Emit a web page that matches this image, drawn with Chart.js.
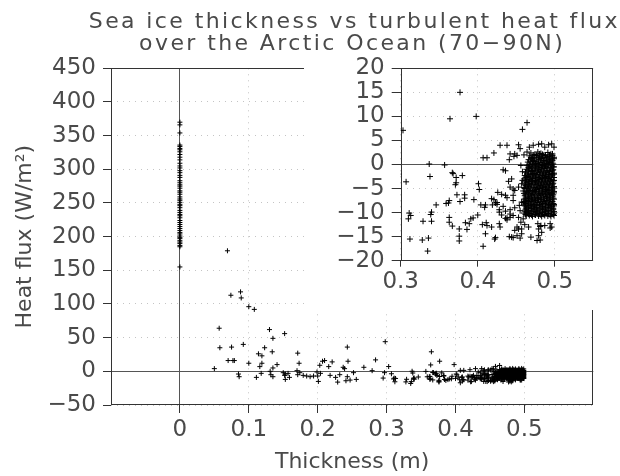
<!DOCTYPE html>
<html>
<head>
<meta charset="utf-8">
<script src="https://cdn.jsdelivr.net/npm/chart.js@4"></script>
<style>
html,body{margin:0;padding:0;background:#fff;}
#wrap{position:relative;width:620px;height:476px;overflow:hidden;}
#main{position:absolute;left:0;top:0;width:620px;height:476px;}
#inset{position:absolute;left:304px;top:40px;width:316px;height:270px;}
</style>
</head>
<body>
<div id="wrap">
<canvas id="main" width="620" height="476"></canvas>
<canvas id="inset" width="316" height="270"></canvas>
</div>
<script>
// ---------- text ----------
const titleLine1 = 'Sea ice thickness vs turbulent heat flux';
const titleLine2 = 'over the Arctic Ocean (70\u221290N)';
const xAxisTitle = 'Thickness (m)';
const yAxisTitle = 'Heat flux (W/m\u00B2)';

// ---------- tick values ----------
const mainXTicks = [0, 0.1, 0.2, 0.3, 0.4, 0.5];
const mainYTicks = [-50, 0, 50, 100, 150, 200, 250, 300, 350, 400, 450];
const insetXTicks = [0.3, 0.4, 0.5];
const insetYTicks = [-20, -15, -10, -5, 0, 5, 10, 15, 20];

// ---------- data ----------
// open water (thickness = 0 m): heat flux values
const openWaterFlux = [370, 366, 354, 336, 334, 331, 329, 326, 322, 318, 314, 309, 305, 302, 298, 295, 291, 288, 283, 280,
  277, 275, 272, 268, 266, 263, 259, 256, 254, 251, 248, 246, 243, 239, 236, 233, 231, 228, 224, 221,
  218, 215, 212, 209, 206, 204, 201, 199, 197, 194, 192, 190, 187, 185, 155];

// scattered thin-ice points
const scatterThickness = [
  0.050, 0.057, 0.058, 0.069, 0.070, 0.074, 0.075, 0.077, 0.079, 0.085,
  0.086, 0.088, 0.089, 0.092, 0.100, 0.100, 0.108, 0.111, 0.114, 0.116,
  0.118, 0.119, 0.119, 0.123, 0.130, 0.131, 0.132, 0.134, 0.135, 0.135,
  0.135, 0.141, 0.150, 0.152, 0.152, 0.153, 0.153, 0.157, 0.159, 0.170,
  0.171, 0.171, 0.173, 0.174, 0.179, 0.184, 0.189, 0.194, 0.199, 0.200,
  0.201, 0.203, 0.204, 0.207, 0.210, 0.216, 0.218, 0.221, 0.226, 0.229,
  0.232, 0.237, 0.239, 0.241, 0.243, 0.243, 0.244, 0.247, 0.252, 0.256,
  0.267, 0.279, 0.284, 0.295, 0.297, 0.298, 0.303, 0.307, 0.311, 0.313,
  0.310, 0.312, 0.328, 0.329, 0.335, 0.336, 0.337, 0.338, 0.340, 0.339,
  0.340, 0.346, 0.357, 0.359, 0.362, 0.363, 0.363, 0.363, 0.364, 0.365,
  0.367, 0.368, 0.367, 0.371, 0.372, 0.372, 0.373, 0.376, 0.376, 0.376,
  0.377, 0.377, 0.380, 0.383, 0.383, 0.384, 0.386, 0.389, 0.391, 0.394,
  0.395, 0.398, 0.400, 0.401, 0.402, 0.404, 0.406, 0.407, 0.407, 0.409,
  0.410, 0.410, 0.411, 0.412, 0.412, 0.418, 0.418, 0.419, 0.421, 0.422,
  0.421, 0.423, 0.423, 0.425, 0.425, 0.426, 0.428, 0.428, 0.428, 0.429,
  0.429, 0.431, 0.431, 0.433, 0.433, 0.436, 0.436, 0.436, 0.436, 0.438,
  0.438, 0.438, 0.438, 0.440, 0.441, 0.441, 0.442, 0.442, 0.442, 0.442,
  0.444, 0.446, 0.446, 0.446, 0.446, 0.446, 0.447, 0.448, 0.448, 0.448,
  0.448, 0.451, 0.451, 0.451, 0.453, 0.453, 0.453, 0.453, 0.454, 0.455,
  0.455, 0.455, 0.456, 0.456, 0.457, 0.457, 0.457, 0.457, 0.458, 0.458,
  0.458, 0.459, 0.460, 0.461, 0.464, 0.464, 0.466, 0.467, 0.469, 0.472,
  0.477, 0.478, 0.479, 0.479, 0.479, 0.481, 0.481, 0.482, 0.483, 0.483,
  0.487, 0.487, 0.492, 0.494, 0.494, 0.496, 0.496, 0.499, 0.442, 0.444];
const scatterFlux = [
  4, 64, 35, 179, 16, 113, 36, 16, 16, -4,
  -8, 118, 109, 40, 96, 12, 92, -9, 26, 7,
  -3, 23, 12, 35, 62, 0, -5, 29, 49, 5,
  -8, 10, -2, 56, -6, -4, -12, -3, -9, 1,
  27, -5, 12, -2, -6, -7, -8, -7, -1, -7,
  -15, 9, -3, 15, 16, 7, -6, 14, -9, -16,
  -5, 6, 4, -14, 36, -8, 15, -13, -2, -12,
  6, 1, 17, -10, -2, 44, 7.1, -3.6, -10.1, -10.6,
  -11.3, -15.5, -15.7, -11.8, -18.0, -15.3, 0.1, -2.5, -9.9, -10.4,
  -11.8, -8.4, -0.1, -8.1, -8.0, -7.5, -11.0, -12.0, 9.5, 29,
  -1.7, -1.9, -12.8, -4.2, -3.8, -2.7, -6.3, -13.4, -14.9, -15.9,
  15.0, -7.7, -2.3, -6.3, -7.0, -12.1, -13.5, -12.3, -11.3, -11.1,
  -7.3, 10.0, -10.5, -4.0, -5.2, -8.4, -12.5, -17.0, 1.4, -8.9,
  -8.4, -14.4, -12.1, -12.7, 1.4, -7.1, -13.0, -8.4, -7.3, -15.5,
  2.4, -8.0, -15.2, -7.9, -8.3, -5.8, -9.4, -9.9, -12.3, 4.0,
  -13.0, -6.2, -10.5, -1.1, -8.7, -1.3, -6.4, -9.7, -11.2, 4.0,
  -6.9, -11.1, -11.5, -3.5, 1.0, -15.0, 2.2, -4.7, -10.3, -9.4,
  -3.0, -6.4, -10.6, -15.2, -5.1, -7.5, 1.7, 2.2, -5.4, -9.0,
  -13.7, 1.9, -13.0, -14.8, 4.1, -4.7, -11.0, -13.4, -8.5, 3.3,
  -9.6, -15.3, -0.2, -12.0, -4.0, -7.8, -13.4, -14.4, -1.5, -3.3,
  7.3, -11.3, 2.0, -12.5, 8.7, 2.6, -13.0, 3.6, -15.1, 4.0,
  -15.8, -12.3, 4.2, -14.8, -13.4, -12.9, -15.7, -12.7, 4.3, -14.1,
  3.6, -12.7, 4.1, -12.3, -13.2, 4.3, -13.0, 3.6, -11.0, -15.1];

// dense cluster of ice near 0.46-0.50 m
const clusterThickness = [
  0.469, 0.474, 0.478, 0.482, 0.486, 0.491, 0.495,
  0.472, 0.476, 0.480, 0.484, 0.488, 0.493, 0.497,
  0.467, 0.471, 0.476, 0.480, 0.484, 0.489, 0.493, 0.497,
  0.469, 0.473, 0.478, 0.482, 0.486, 0.491, 0.495, 0.499,
  0.466, 0.470, 0.474, 0.479, 0.483, 0.487, 0.491, 0.495, 0.499,
  0.468, 0.472, 0.476, 0.481, 0.485, 0.489, 0.493, 0.497,
  0.465, 0.469, 0.473, 0.477, 0.481, 0.485, 0.489, 0.493, 0.497,
  0.467, 0.471, 0.475, 0.479, 0.483, 0.487, 0.491, 0.495, 0.498,
  0.464, 0.468, 0.472, 0.476, 0.480, 0.484, 0.488, 0.492, 0.496, 0.499,
  0.466, 0.470, 0.474, 0.478, 0.482, 0.486, 0.490, 0.494, 0.498,
  0.463, 0.467, 0.471, 0.475, 0.479, 0.483, 0.487, 0.491, 0.495, 0.498,
  0.465, 0.469, 0.473, 0.477, 0.481, 0.485, 0.489, 0.493, 0.497,
  0.462, 0.466, 0.470, 0.474, 0.478, 0.482, 0.486, 0.490, 0.494, 0.499,
  0.464, 0.468, 0.472, 0.476, 0.480, 0.484, 0.488, 0.492, 0.496, 0.499,
  0.461, 0.465, 0.469, 0.473, 0.477, 0.481, 0.485, 0.489, 0.493, 0.497,
  0.463, 0.467, 0.471, 0.475, 0.479, 0.483, 0.487, 0.491, 0.495, 0.499,
  0.460, 0.464, 0.468, 0.472, 0.476, 0.480, 0.484, 0.488, 0.492, 0.496, 0.499,
  0.462, 0.466, 0.470, 0.474, 0.478, 0.482, 0.486, 0.490, 0.494, 0.498,
  0.463, 0.467, 0.471, 0.475, 0.479, 0.483, 0.487, 0.491, 0.495, 0.498,
  0.461, 0.465, 0.469, 0.473, 0.477, 0.481, 0.485, 0.489, 0.493, 0.497,
  0.462, 0.466, 0.470, 0.474, 0.478, 0.482, 0.486, 0.490, 0.494, 0.499,
  0.460, 0.464, 0.468, 0.472, 0.476, 0.480, 0.484, 0.488, 0.492, 0.496, 0.499,
  0.461, 0.465, 0.469, 0.473, 0.477, 0.481, 0.485, 0.489, 0.493, 0.497,
  0.459, 0.463, 0.467, 0.471, 0.475, 0.479, 0.483, 0.487, 0.491, 0.495, 0.499,
  0.460, 0.464, 0.468, 0.472, 0.476, 0.480, 0.484, 0.488, 0.492, 0.496, 0.499,
  0.462, 0.466, 0.470, 0.474, 0.478, 0.482, 0.486, 0.490, 0.494, 0.498,
  0.461, 0.465, 0.469, 0.473, 0.477, 0.481, 0.485, 0.489, 0.493, 0.497,
  0.462, 0.466, 0.470, 0.474, 0.478, 0.482, 0.486, 0.490, 0.494, 0.498,
  0.460, 0.463, 0.467, 0.471, 0.475, 0.479, 0.483, 0.487, 0.491, 0.495, 0.499,
  0.461, 0.465, 0.469, 0.473, 0.477, 0.481, 0.485, 0.489, 0.493, 0.497,
  0.459, 0.462, 0.466, 0.470, 0.474, 0.478, 0.482, 0.486, 0.490, 0.494, 0.498,
  0.460, 0.464, 0.468, 0.472, 0.476, 0.480, 0.484, 0.488, 0.492, 0.496, 0.499,
  0.461, 0.464, 0.468, 0.472, 0.476, 0.480, 0.484, 0.488, 0.492, 0.496, 0.499,
  0.463, 0.466, 0.470, 0.474, 0.478, 0.482, 0.486, 0.490, 0.494, 0.498,
  0.462, 0.466, 0.470, 0.474, 0.478, 0.482, 0.486, 0.490, 0.494, 0.498,
  0.461, 0.464, 0.468, 0.472, 0.476, 0.480, 0.484, 0.488, 0.492, 0.496, 0.499,
  0.460, 0.464, 0.468, 0.472, 0.476, 0.480, 0.484, 0.488, 0.492, 0.496, 0.499,
  0.462, 0.466, 0.470, 0.474, 0.478, 0.482, 0.486, 0.490, 0.494, 0.498,
  0.463, 0.467, 0.471, 0.475, 0.479, 0.483, 0.487, 0.491, 0.495, 0.499];
const clusterFlux = [
  2.4, 2.1, 2.6, 2.3, 2.0, 2.5, 2.2,
  2.0, 1.9, 2.2, 2.1, 1.9, 2.0, 2.2,
  1.8, 1.5, 1.9, 1.6, 1.8, 1.4, 1.7, 1.9,
  1.4, 1.3, 1.5, 1.2, 1.4, 1.6, 1.3, 1.5,
  1.0, 1.2, 0.9, 1.1, 1.3, 0.8, 1.1, 1.0, 1.2,
  0.7, 0.8, 0.6, 0.9, 0.7, 0.8, 0.6, 0.8,
  0.5, 0.3, 0.6, 0.2, 0.4, 0.5, 0.2, 0.4, 0.3,
  0.0, 0.1, -0.1, 0.1, 0.0, -0.1, 0.1, 0.0, 0.1,
  -0.2, -0.4, -0.1, -0.3, -0.5, -0.2, -0.4, -0.1, -0.3, -0.5,
  -0.6, -0.7, -0.5, -0.7, -0.6, -0.8, -0.6, -0.7, -0.5,
  -1.0, -0.8, -1.2, -0.9, -1.1, -1.0, -0.8, -1.2, -0.9, -1.1,
  -1.3, -1.4, -1.2, -1.4, -1.3, -1.5, -1.3, -1.4, -1.2,
  -1.6, -1.8, -1.5, -1.9, -1.7, -1.6, -1.8, -1.7, -1.5, -1.8,
  -2.0, -2.1, -1.9, -2.1, -2.0, -2.2, -2.0, -2.1, -1.9, -2.0,
  -2.3, -2.5, -2.4, -2.2, -2.6, -2.4, -2.3, -2.5, -2.4, -2.2,
  -2.7, -2.8, -2.6, -2.8, -2.7, -2.9, -2.7, -2.8, -2.6, -2.7,
  -3.0, -3.2, -3.1, -2.9, -3.3, -3.1, -3.0, -3.2, -2.9, -3.1, -3.3,
  -3.4, -3.5, -3.3, -3.5, -3.4, -3.6, -3.4, -3.5, -3.3, -3.4,
  -3.7, -3.9, -3.6, -3.8, -4.0, -3.7, -3.9, -3.8, -3.6, -3.9,
  -4.1, -4.2, -4.0, -4.2, -4.1, -4.3, -4.1, -4.2, -4.0, -4.1,
  -4.4, -4.6, -4.3, -4.7, -4.5, -4.4, -4.6, -4.5, -4.3, -4.6,
  -4.8, -4.9, -4.7, -4.9, -4.8, -5.0, -4.8, -4.9, -4.7, -4.8, -4.9,
  -5.0, -5.3, -5.1, -5.4, -5.2, -5.0, -5.3, -5.2, -5.1, -5.3,
  -5.5, -5.6, -5.4, -5.6, -5.5, -5.7, -5.5, -5.6, -5.4, -5.5, -5.6,
  -6.0, -5.8, -6.1, -5.9, -5.7, -6.0, -5.9, -6.1, -5.8, -6.0, -5.9,
  -6.3, -6.1, -6.3, -6.2, -6.4, -6.2, -6.3, -6.1, -6.2, -6.3,
  -6.5, -6.7, -6.4, -6.6, -6.8, -6.5, -6.6, -6.7, -6.4, -6.6,
  -7.0, -6.8, -7.0, -6.9, -7.1, -6.9, -7.0, -6.8, -6.9, -7.0,
  -7.2, -7.4, -7.1, -7.3, -7.5, -7.2, -7.3, -7.4, -7.1, -7.3, -7.2,
  -7.7, -7.5, -7.7, -7.6, -7.8, -7.6, -7.7, -7.5, -7.6, -7.7,
  -7.9, -8.1, -7.8, -8.0, -8.2, -7.9, -8.0, -8.1, -7.8, -8.0, -8.1,
  -8.4, -8.2, -8.4, -8.3, -8.5, -8.3, -8.4, -8.2, -8.3, -8.4, -8.3,
  -8.6, -8.8, -8.5, -8.7, -8.9, -8.6, -8.7, -8.8, -8.5, -8.7, -8.6,
  -9.1, -8.9, -9.1, -9.0, -9.2, -9.0, -9.1, -8.9, -9.0, -9.1,
  -9.3, -9.5, -9.2, -9.4, -9.6, -9.3, -9.4, -9.5, -9.2, -9.4,
  -9.7, -9.8, -9.6, -9.8, -9.7, -9.9, -9.7, -9.8, -9.6, -9.7, -9.8,
  -10.1, -10.0, -10.2, -9.9, -10.1, -10.2, -10.0, -10.1, -10.2, -9.9, -10.1,
  -10.4, -10.3, -10.5, -10.4, -10.3, -10.5, -10.4, -10.3, -10.5, -10.4,
  -10.7, -10.6, -10.8, -10.5, -10.7, -10.8, -10.6, -10.7, -10.8, -10.6];

// ---------- styling ----------
const FONT = "'DejaVu Sans', 'Liberation Sans', sans-serif";
const TEXT = '#4a4a4a';
const GRID = '#c4c4c4';
const ZERO = '#555';
const FRAME = '#333';

function tickLabel(v) { return (v < 0 ? '\u2212' : '') + String(Math.abs(v)); }
function crossStyle(r) {
  return { pointStyle: 'cross', pointRadius: r, pointHoverRadius: r, pointBorderWidth: 1,
           pointBorderColor: '#000', pointBackgroundColor: 'rgba(0,0,0,0)', showLine: false };
}
function pairs(xs, ys) { return xs.map((x, i) => ({ x: x, y: ys[i] })); }
const isZero = c => c.tick && c.tick.value === 0;

const framePlugin = {
  id: 'frame',
  beforeDatasetsDraw(chart) {
    const { ctx, chartArea: a } = chart;
    ctx.save();
    ctx.strokeStyle = FRAME; ctx.lineWidth = 1; ctx.setLineDash([]);
    const l = Math.round(a.left) + 0.5, t = Math.round(a.top) + 0.5;
    const r = Math.round(a.right) - 0.5, b = Math.round(a.bottom) - 0.5;
    ctx.strokeRect(l, t, r - l, b - t);
    ctx.restore();
  }
};

// wider letter spacing for the two title lines (title + subtitle boxes)
const titleSpacing = {
  id: 'titleSpacing',
  beforeLayout(chart) {
    const tb = chart.titleBlock;
    if (!tb) return;
    chart.boxes.forEach(b => {
      if (b.__spacing || b.constructor !== tb.constructor) return;
      b.__spacing = '2.4px';
      b._layers = () => [{ z: 0, draw: (area) => {
        const c = chart.ctx; c.letterSpacing = b.__spacing; b.draw(area); c.letterSpacing = '0px';
      } }];
    });
  }
};

const insetBackground = {
  id: 'insetBackground',
  beforeDraw(chart) {
    const ctx = chart.ctx;
    ctx.save(); ctx.fillStyle = '#fff';
    ctx.fillRect(0, 18, chart.width, chart.height - 18);
    ctx.restore();
  }
};

function axisX(min, max, ticks, tickLen, pad, height, title) {
  return {
    type: 'linear', position: 'bottom', min: min, max: max,
    afterBuildTicks: s => { s.ticks = ticks.map(v => ({ value: v })); },
    afterFit: s => { s.height = height; },
    ticks: { callback: v => tickLabel(v), autoSkip: false, maxRotation: 0, minRotation: 0,
             padding: pad, color: TEXT, font: { family: FONT, size: 23 } },
    grid: { color: c => isZero(c) ? ZERO : GRID, lineWidth: 1, tickColor: FRAME, tickLength: tickLen, tickWidth: 1 },
    border: { display: false, dash: c => isZero(c) ? [] : [1, 5] },
    title: title
  };
}
function axisY(min, max, ticks, tickLen, pad, width, title) {
  return {
    type: 'linear', position: 'left', min: min, max: max,
    afterBuildTicks: s => { s.ticks = ticks.map(v => ({ value: v })); },
    afterFit: s => { s.width = width; },
    ticks: { callback: v => tickLabel(v), autoSkip: false, padding: pad, color: TEXT,
             font: { family: FONT, size: 23 } },
    grid: { color: c => isZero(c) ? ZERO : GRID, lineWidth: 1, tickColor: FRAME, tickLength: tickLen, tickWidth: 1 },
    border: { display: false, dash: c => isZero(c) ? [] : [1, 5] },
    title: title
  };
}
// empty right-hand spacer axis (keeps the plot away from the right edge)
function spacerAxis(width) {
  return { type: 'linear', position: 'right', display: true, min: 0, max: 1,
           ticks: { display: false }, grid: { display: false, drawTicks: false },
           border: { display: false }, title: { display: false },
           afterFit: s => { s.width = width; } };
}

// ---------- main chart ----------
new Chart(document.getElementById('main'), {
  type: 'scatter',
  data: {
    datasets: [
      Object.assign({ label: 'Open water', data: openWaterFlux.map(f => ({ x: 0, y: f })) }, crossStyle(2.5)),
      Object.assign({ label: 'Thin ice', data: pairs(scatterThickness, scatterFlux) }, crossStyle(2.5)),
      Object.assign({ label: 'Ice cluster', data: pairs(clusterThickness, clusterFlux) }, crossStyle(2.5))
    ]
  },
  options: {
    responsive: false, animation: false, events: [],
    layout: { padding: 0 },
    plugins: {
      legend: { display: false }, tooltip: { enabled: false },
      title: { display: true, text: titleLine1, fullSize: true, align: 'end', color: TEXT,
               font: { family: FONT, size: 22, weight: 'normal', lineHeight: 1 },
               padding: { top: 11, bottom: 0 } },
      subtitle: { display: true, text: titleLine2, fullSize: false, color: TEXT,
               font: { family: FONT, size: 22, weight: 'normal', lineHeight: 1 },
               padding: { top: 0, bottom: 13.3 } }
    },
    scales: {
      x: axisX(-0.1, 0.6, mainXTicks, 8, 3, 71,
        { display: true, text: xAxisTitle, color: TEXT, font: { family: FONT, size: 22, lineHeight: 1 }, padding: { top: 0, bottom: 3 } }),
      y: axisY(-50, 450, mainYTicks, 8, 7, 111,
        { display: true, text: yAxisTitle, color: TEXT, font: { family: FONT, size: 22, lineHeight: 1 }, padding: { top: 14.7, bottom: 0 } }),
      yRight: spacerAxis(26.7)
    }
  },
  plugins: [framePlugin, titleSpacing]
});

// ---------- inset chart (zoom on 0.3-0.55 m, -20..20 W/m2) ----------
const inRange = p => p.x >= 0.295 && p.x <= 0.555 && p.y >= -20.5 && p.y <= 20.5;
new Chart(document.getElementById('inset'), {
  type: 'scatter',
  data: {
    datasets: [
      Object.assign({ label: 'Thin ice', data: pairs(scatterThickness, scatterFlux).filter(inRange) }, crossStyle(3)),
      Object.assign({ label: 'Ice cluster', data: pairs(clusterThickness, clusterFlux).filter(inRange) }, crossStyle(3))
    ]
  },
  options: {
    responsive: false, animation: false, events: [],
    layout: { padding: { left: 0, right: 26.7, top: 28.3, bottom: 0 } },
    plugins: { legend: { display: false }, tooltip: { enabled: false }, title: { display: false } },
    scales: {
      x: axisX(0.3, 0.55, insetXTicks, 6, 2, 49.3, { display: false }),
      y: axisY(-20, 20, insetYTicks, 9, 7, 96.7, { display: false })
    }
  },
  plugins: [insetBackground, framePlugin]
});
</script>
</body>
</html>
